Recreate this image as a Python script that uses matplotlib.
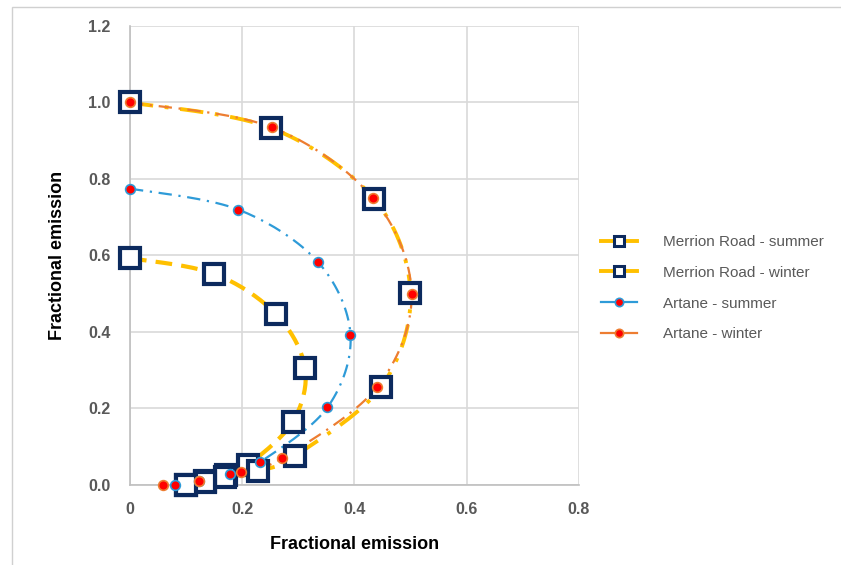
import numpy as np
import matplotlib
matplotlib.use('Agg')
import matplotlib.pyplot as plt
from matplotlib.patches import Rectangle

plt.rcParams['font.family'] = ['Liberation Sans', 'DejaVu Sans']

# Merrion Road
mr_summer_x = [0.0, 0.150, 0.260, 0.312, 0.290, 0.210, 0.171, 0.134, 0.100]
mr_summer_y = [0.593, 0.552, 0.447, 0.306, 0.165, 0.052, 0.026, 0.010, 0.000]
mr_winter_x = [0.0, 0.252, 0.435, 0.500, 0.448, 0.294, 0.228, 0.169, 0.134, 0.100]
mr_winter_y = [1.000, 0.933, 0.748, 0.502, 0.257, 0.076, 0.037, 0.020, 0.008, 0.000]
# Artane
ar_summer_x = [0.0, 0.193, 0.335, 0.393, 0.352, 0.232, 0.178, 0.123, 0.080]
ar_summer_y = [0.775, 0.720, 0.583, 0.393, 0.203, 0.060, 0.029, 0.010, 0.000]
ar_winter_x = [0.0, 0.253, 0.433, 0.502, 0.440, 0.271, 0.197, 0.123, 0.059]
ar_winter_y = [1.000, 0.935, 0.750, 0.500, 0.255, 0.070, 0.035, 0.010, 0.000]

labels = ['Merrion Road - summer', 'Merrion Road - winter',
          'Artane - summer', 'Artane - winter']


def smooth(x, y, n=20):
    # catmull-rom through the points, like excel's smoothed line
    p = np.column_stack([x, y])
    p = np.vstack([p[0], p, p[-1]])
    out = []
    t = np.linspace(0, 1, n, endpoint=False)[:, None]
    for i in range(1, len(p) - 2):
        p0, p1, p2, p3 = p[i - 1], p[i], p[i + 1], p[i + 2]
        seg = 0.5 * ((2 * p1) + (-p0 + p2) * t + (2 * p0 - 5 * p1 + 4 * p2 - p3) * t ** 2
                     + (-p0 + 3 * p1 - 3 * p2 + p3) * t ** 3)
        out.append(seg)
    out.append(p[-2][None, :])
    out = np.vstack(out)
    return out[:, 0], out[:, 1]


fig = plt.figure(figsize=(8.41, 5.65), dpi=100)
ax = fig.add_axes([0.1546, 0.1416, 0.5336, 0.8124])

yellow = '#FFC000'
orange = '#ED7D31'
blue = '#2E9BD8'
navy = '#0C2A5E'

sx, sy = smooth(mr_summer_x, mr_summer_y)
ax.plot(sx, sy, color=yellow, lw=3, dashes=(4, 2.2), zorder=2)
sx, sy = smooth(mr_winter_x, mr_winter_y)
ax.plot(sx, sy, color=yellow, lw=2.8, dashes=(6, 3, 1, 3), zorder=2)
sx, sy = smooth(ar_summer_x, ar_summer_y)
ax.plot(sx, sy, color=blue, lw=1.6, dashes=(6, 3, 1, 3), zorder=3)
sx, sy = smooth(ar_winter_x, ar_winter_y)
ax.plot(sx, sy, color=orange, lw=1.6, dashes=(6, 3, 1, 3), zorder=3)

ax.plot(mr_summer_x, mr_summer_y, ls='none', marker='s', ms=14.5, mfc='white',
        mec=navy, mew=3, zorder=4, clip_on=False)
ax.plot(mr_winter_x, mr_winter_y, ls='none', marker='s', ms=14.5, mfc='white',
        mec=navy, mew=3, zorder=4, clip_on=False)
ax.plot(ar_summer_x, ar_summer_y, ls='none', marker='o', ms=7, mfc='red',
        mec=blue, mew=1.2, zorder=5, clip_on=False)
ax.plot(ar_winter_x, ar_winter_y, ls='none', marker='o', ms=7, mfc='red',
        mec=orange, mew=1.2, zorder=5, clip_on=False)

# legend proxies
h = []
h.append(ax.plot([], [], color=yellow, lw=2.8, marker='s', ms=7, mfc='white',
                 mec=navy, mew=2.2)[0])
h.append(ax.plot([], [], color=yellow, lw=2.8, marker='s', ms=7, mfc='white',
                 mec=navy, mew=2.2)[0])
h.append(ax.plot([], [], color=blue, lw=1.6, marker='o', ms=6, mfc='red',
                 mec=blue, mew=1.2)[0])
h.append(ax.plot([], [], color=orange, lw=1.6, marker='o', ms=6, mfc='red',
                 mec=orange, mew=1.2)[0])
fig.legend(h, labels, loc='center left', bbox_to_anchor=(0.698, 0.49), frameon=False,
           fontsize=11, labelcolor='#595959', handlelength=2.4, labelspacing=1.1,
           handletextpad=1.7)

ax.set_xlim(0, 0.8)
ax.set_ylim(0, 1.2)
ax.set_xticks(np.arange(0, 0.81, 0.2))
ax.set_yticks(np.arange(0, 1.21, 0.2))
ax.set_xticklabels(['0', '0.2', '0.4', '0.6', '0.8'])
ax.set_yticklabels(['%.1f' % v for v in np.arange(0, 1.21, 0.2)])
ax.grid(True, color='#D9D9D9', lw=1.2)
ax.set_axisbelow(True)
for s in ['top', 'right']:
    ax.spines[s].set_visible(False)
for s in ['left', 'bottom']:
    ax.spines[s].set_color('#BFBFBF')
    ax.spines[s].set_linewidth(1.2)
ax.tick_params(length=0, labelsize=11.5, labelcolor='#595959')
ax.tick_params(axis='x', pad=12)
ax.tick_params(axis='y', pad=14)
for t in ax.get_xticklabels() + ax.get_yticklabels():
    t.set_fontweight('bold')
ax.set_xlabel('Fractional emission', fontsize=13, fontweight='bold', labelpad=14)
ax.set_ylabel('Fractional emission', fontsize=13, fontweight='bold', labelpad=16)

fig.patches.append(Rectangle((0.014, -0.01), 0.99, 0.998, transform=fig.transFigure,
                             fill=False, ec='#D0D0D0', lw=1))

plt.savefig('out.png', dpi=100)
